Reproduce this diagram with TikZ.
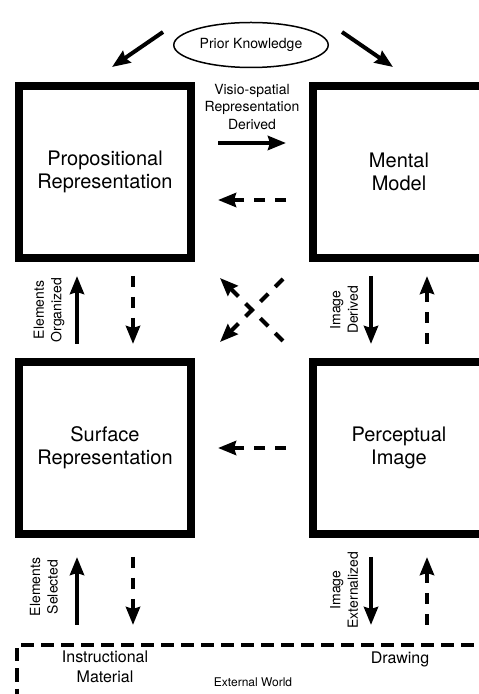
\documentclass[tikz,border=0pt]{standalone}
\usepackage{fontspec}
\setmainfont{TeX Gyre Heros}
\usetikzlibrary{arrows.meta,shapes.geometric,calc}
\tikzset{
  stage/.style={draw,line width=8pt,minimum width=172pt,minimum height=172pt,align=center,font=\fontsize{20}{23}\selectfont},
  lbl/.style={align=center,font=\fontsize{14}{17.5}\selectfont},
  solidarr/.style={line width=4pt,-{Stealth[length=18pt,width=14pt,inset=2pt]}},
  dasharr/.style={solidarr,dash pattern=on 11pt off 10pt},
}
\begin{document}
\begin{tikzpicture}[x=1pt,y=1pt]
\path[use as bounding box,clip] (0,0) rectangle (479,694);
\node[stage] (prop) at (105,522) {Propositional\\Representation};
\node[stage] (mental) at (399,522) {Mental\\Model};
\node[stage] (surface) at (105,246) {Surface\\Representation};
\node[stage] (percept) at (399,246) {Perceptual\\Image};
\node[draw,ellipse,line width=1.5pt,minimum width=136pt,minimum height=45pt,lbl] (prior) at (251,649) {Prior Knowledge};
\node[draw,line width=4pt,dash pattern=on 13pt off 7pt,minimum width=473pt,minimum height=50.5pt,inner sep=0pt] (world) at (253.5,23.75) {};

\draw[solidarr] ([shift={(-10pt,13pt)}]prior.west) -- ([shift={(7pt,15pt)}]prop.north);
\draw[solidarr] ([shift={(13pt,13pt)}]prior.east) -- ([shift={(-6pt,15pt)}]mental.north);

\draw[solidarr,shorten <=23pt,shorten >=23pt] ([yshift=29pt]prop.east) -- node[lbl,above=8pt] (visio) {Visio-spatial\\Representation\\Derived} ([yshift=29pt]mental.west);
\draw[dasharr,shorten <=23pt,shorten >=23pt] ([yshift=-28pt]mental.west) -- ([yshift=-28pt]prop.east);
\draw[dasharr,shorten <=23pt,shorten >=23pt] (percept.west) -- (surface.east);

\draw[solidarr,shorten <=14pt,shorten >=14pt] ([xshift=-28pt]surface.north) -- ([xshift=-28pt]prop.south);
\draw[dasharr,shorten <=14pt,shorten >=14pt] ([xshift=28pt]prop.south) -- ([xshift=28pt]surface.north);
\draw[solidarr,shorten <=14pt,shorten >=14pt] ([xshift=-28pt]mental.south) -- ([xshift=-28pt]percept.north);
\draw[dasharr,shorten <=14pt,shorten >=14pt] ([xshift=28pt]percept.north) -- ([xshift=28pt]mental.south);

\coordinate (hub) at ($(prop)!0.5!(percept)$);
\draw[dasharr] ([shift={(31pt,31pt)}]hub) -- ([shift={(-32pt,-32pt)}]hub);
\draw[dasharr] ([shift={(31pt,-31pt)}]hub) -- ([shift={(-32pt,32pt)}]hub);

\draw[solidarr,shorten <=18pt,shorten >=19pt] ([xshift=-28pt]surface.south |- world.north) -- ([xshift=-28pt]surface.south);
\draw[dasharr,shorten <=19pt,shorten >=18pt] ([xshift=28pt]surface.south) -- ([xshift=28pt]surface.south |- world.north);
\draw[solidarr,shorten <=19pt,shorten >=18pt] ([xshift=-28pt]percept.south) -- ([xshift=-28pt]percept.south |- world.north);
\draw[dasharr,shorten <=18pt,shorten >=19pt] ([xshift=28pt]percept.south |- world.north) -- ([xshift=28pt]percept.south);

\node[lbl,rotate=90] (organized) at (49,384) {Elements\\Organized};
\node[lbl,rotate=90] (derived) at (344,384) {Image\\Derived};
\node[lbl,rotate=90] (selected) at (44,107) {Elements\\Selected};
\node[lbl,rotate=90] (externalized) at (344,104) {Image\\Externalized};

\node[align=center,font=\fontsize{16}{20}\selectfont] (instr) at (105,27) {Instructional\\Material};
\node[font=\fontsize{16}{20}\selectfont] (drawing) at (400,35) {Drawing};
\node[font=\fontsize{12}{14}\selectfont] (extworld) at (253,12) {External World};
\end{tikzpicture}
\end{document}
